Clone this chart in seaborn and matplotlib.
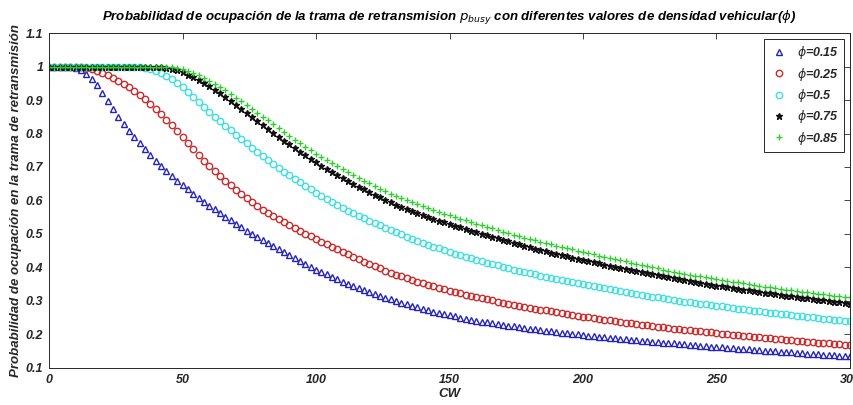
import matplotlib
matplotlib.use("Agg")
import matplotlib.pyplot as plt
from matplotlib.ticker import FuncFormatter
import numpy as np
import pandas as pd
import seaborn as sns

# ---------------- data ----------------
cw = list(range(0, 301, 2))

p_015 = [1.000, 1.000, 1.000, 1.000, 0.999, 0.996, 0.989, 0.978, 0.963, 0.945,
         0.922, 0.897, 0.872, 0.849, 0.828, 0.808, 0.789, 0.771, 0.753, 0.735,
         0.718, 0.702, 0.687, 0.673, 0.659, 0.646, 0.633, 0.620, 0.608, 0.596,
         0.585, 0.574, 0.563, 0.552, 0.541, 0.530, 0.520, 0.510, 0.500, 0.491,
         0.482, 0.473, 0.463, 0.454, 0.445, 0.436, 0.428, 0.419, 0.410, 0.402,
         0.394, 0.387, 0.380, 0.372, 0.365, 0.358, 0.352, 0.345, 0.339, 0.333,
         0.327, 0.321, 0.316, 0.310, 0.305, 0.299, 0.294, 0.290, 0.285, 0.281,
         0.276, 0.272, 0.268, 0.264, 0.261, 0.257, 0.254, 0.250, 0.247, 0.244,
         0.241, 0.238, 0.236, 0.233, 0.231, 0.228, 0.226, 0.224, 0.221, 0.219,
         0.217, 0.215, 0.213, 0.211, 0.209, 0.207, 0.205, 0.203, 0.202, 0.200,
         0.198, 0.196, 0.195, 0.193, 0.192, 0.190, 0.189, 0.187, 0.186, 0.184,
         0.183, 0.182, 0.180, 0.179, 0.177, 0.176, 0.175, 0.174, 0.172, 0.171,
         0.169, 0.168, 0.167, 0.166, 0.164, 0.163, 0.162, 0.161, 0.160, 0.158,
         0.157, 0.156, 0.155, 0.154, 0.152, 0.151, 0.150, 0.149, 0.148, 0.147,
         0.146, 0.145, 0.143, 0.142, 0.141, 0.140, 0.139, 0.138, 0.137, 0.136,
         0.135]

p_025 = [1.000, 1.000, 1.000, 1.000, 1.000, 1.000, 0.999, 0.997, 0.993, 0.988,
         0.982, 0.975, 0.966, 0.958, 0.948, 0.938, 0.927, 0.916, 0.903, 0.889,
         0.874, 0.858, 0.841, 0.824, 0.807, 0.790, 0.772, 0.754, 0.736, 0.719,
         0.703, 0.687, 0.672, 0.658, 0.645, 0.632, 0.619, 0.607, 0.595, 0.584,
         0.573, 0.563, 0.553, 0.544, 0.535, 0.526, 0.517, 0.509, 0.501, 0.493,
         0.485, 0.477, 0.469, 0.461, 0.454, 0.446, 0.439, 0.431, 0.424, 0.417,
         0.410, 0.404, 0.397, 0.391, 0.385, 0.379, 0.374, 0.368, 0.363, 0.358,
         0.353, 0.349, 0.344, 0.340, 0.335, 0.331, 0.327, 0.323, 0.319, 0.316,
         0.312, 0.309, 0.305, 0.302, 0.298, 0.295, 0.292, 0.289, 0.286, 0.283,
         0.280, 0.277, 0.274, 0.272, 0.269, 0.266, 0.263, 0.261, 0.258, 0.256,
         0.253, 0.251, 0.249, 0.246, 0.244, 0.242, 0.240, 0.237, 0.235, 0.233,
         0.231, 0.229, 0.227, 0.225, 0.223, 0.221, 0.219, 0.217, 0.216, 0.214,
         0.212, 0.210, 0.209, 0.207, 0.206, 0.204, 0.202, 0.201, 0.199, 0.198,
         0.196, 0.195, 0.193, 0.192, 0.190, 0.189, 0.188, 0.186, 0.185, 0.183,
         0.182, 0.181, 0.179, 0.178, 0.176, 0.175, 0.174, 0.172, 0.171, 0.170,
         0.169]

p_05 = [1.000, 1.000, 1.000, 1.000, 1.000, 1.000, 1.000, 1.000, 1.000, 1.000,
        1.000, 1.000, 1.000, 1.000, 1.000, 1.000, 1.000, 0.999, 0.997, 0.993,
        0.988, 0.981, 0.972, 0.962, 0.952, 0.940, 0.925, 0.910, 0.895, 0.879,
        0.864, 0.850, 0.837, 0.823, 0.810, 0.797, 0.784, 0.771, 0.758, 0.746,
        0.733, 0.721, 0.709, 0.698, 0.686, 0.675, 0.664, 0.654, 0.643, 0.633,
        0.623, 0.614, 0.605, 0.596, 0.587, 0.578, 0.570, 0.562, 0.555, 0.547,
        0.540, 0.533, 0.526, 0.519, 0.512, 0.505, 0.499, 0.492, 0.486, 0.479,
        0.473, 0.468, 0.462, 0.457, 0.451, 0.446, 0.441, 0.436, 0.432, 0.427,
        0.422, 0.418, 0.414, 0.410, 0.406, 0.402, 0.398, 0.394, 0.391, 0.387,
        0.383, 0.380, 0.376, 0.373, 0.369, 0.366, 0.363, 0.360, 0.356, 0.353,
        0.350, 0.347, 0.344, 0.341, 0.338, 0.335, 0.332, 0.329, 0.327, 0.324,
        0.321, 0.318, 0.316, 0.313, 0.311, 0.308, 0.306, 0.303, 0.301, 0.298,
        0.296, 0.294, 0.292, 0.290, 0.288, 0.286, 0.284, 0.281, 0.279, 0.277,
        0.275, 0.273, 0.271, 0.269, 0.267, 0.265, 0.263, 0.261, 0.260, 0.258,
        0.256, 0.254, 0.252, 0.251, 0.249, 0.247, 0.245, 0.244, 0.242, 0.241,
        0.239]

p_075 = [1.000, 1.000, 1.000, 1.000, 1.000, 1.000, 1.000, 1.000, 1.000, 1.000,
         1.000, 1.000, 1.000, 1.000, 1.000, 1.000, 1.000, 1.000, 1.000, 1.000,
         1.000, 0.999, 0.997, 0.993, 0.989, 0.983, 0.976, 0.969, 0.961, 0.952,
         0.942, 0.931, 0.920, 0.909, 0.898, 0.886, 0.874, 0.862, 0.850, 0.838,
         0.826, 0.814, 0.802, 0.791, 0.779, 0.768, 0.757, 0.746, 0.735, 0.725,
         0.714, 0.704, 0.695, 0.685, 0.676, 0.667, 0.658, 0.650, 0.641, 0.633,
         0.625, 0.617, 0.610, 0.602, 0.595, 0.587, 0.581, 0.574, 0.568, 0.562,
         0.556, 0.551, 0.545, 0.540, 0.535, 0.530, 0.525, 0.520, 0.515, 0.510,
         0.505, 0.500, 0.496, 0.491, 0.487, 0.482, 0.478, 0.473, 0.469, 0.464,
         0.460, 0.456, 0.452, 0.448, 0.444, 0.440, 0.436, 0.433, 0.429, 0.426,
         0.422, 0.419, 0.415, 0.412, 0.408, 0.405, 0.402, 0.399, 0.395, 0.392,
         0.389, 0.386, 0.383, 0.380, 0.377, 0.374, 0.371, 0.368, 0.366, 0.363,
         0.360, 0.357, 0.354, 0.352, 0.349, 0.346, 0.344, 0.341, 0.339, 0.336,
         0.334, 0.332, 0.330, 0.327, 0.325, 0.323, 0.321, 0.319, 0.316, 0.314,
         0.312, 0.310, 0.308, 0.306, 0.304, 0.302, 0.300, 0.298, 0.296, 0.294,
         0.292]

p_085 = [1.000, 1.000, 1.000, 1.000, 1.000, 1.000, 1.000, 1.000, 1.000, 1.000,
         1.000, 1.000, 1.000, 1.000, 1.000, 1.000, 1.000, 1.000, 1.000, 1.000,
         1.000, 1.000, 1.000, 1.000, 0.997, 0.992, 0.987, 0.981, 0.974, 0.967,
         0.958, 0.949, 0.939, 0.929, 0.918, 0.907, 0.896, 0.885, 0.873, 0.862,
         0.850, 0.839, 0.827, 0.816, 0.804, 0.793, 0.782, 0.772, 0.761, 0.751,
         0.740, 0.730, 0.721, 0.711, 0.702, 0.693, 0.684, 0.676, 0.667, 0.659,
         0.651, 0.643, 0.635, 0.628, 0.620, 0.613, 0.607, 0.601, 0.595, 0.589,
         0.583, 0.578, 0.572, 0.567, 0.561, 0.556, 0.551, 0.546, 0.541, 0.536,
         0.531, 0.526, 0.521, 0.517, 0.512, 0.507, 0.503, 0.498, 0.494, 0.489,
         0.485, 0.481, 0.477, 0.473, 0.469, 0.465, 0.461, 0.457, 0.454, 0.450,
         0.446, 0.442, 0.439, 0.435, 0.432, 0.428, 0.425, 0.421, 0.418, 0.414,
         0.411, 0.408, 0.404, 0.401, 0.397, 0.394, 0.391, 0.388, 0.385, 0.382,
         0.379, 0.376, 0.374, 0.371, 0.369, 0.366, 0.363, 0.361, 0.358, 0.356,
         0.353, 0.351, 0.348, 0.346, 0.343, 0.341, 0.339, 0.337, 0.334, 0.332,
         0.330, 0.328, 0.326, 0.324, 0.322, 0.320, 0.318, 0.316, 0.315, 0.313,
         0.311]

labels = [r"$\phi$=0.15", r"$\phi$=0.25", r"$\phi$=0.5", r"$\phi$=0.75", r"$\phi$=0.85"]
x_ticks = [0, 50, 100, 150, 200, 250, 300]
y_ticks = [0.1, 0.2, 0.3, 0.4, 0.5, 0.6, 0.7, 0.8, 0.9, 1.0, 1.1]

title = ("Probabilidad de ocupación de la trama de retransmision $p_{busy}$ "
         "con diferentes valores de densidad vehicular($\\phi$)")
x_label = "CW"
y_label = "Probabilidad de ocupación en la trama de retransmisión"

# ---------------- styling ----------------
sns.set_theme(style="white")
plt.rcParams["font.family"] = ["Liberation Sans", "DejaVu Sans"]
plt.rcParams["mathtext.fontset"] = "dejavusans"
axis_col = "#262626"

fig = plt.figure(figsize=(8.54, 4.05), dpi=100)
fig.patch.set_facecolor("white")
ax = fig.add_axes([0.0574, 0.0914, 0.9379, 0.8271])
ax.set_facecolor("white")

styles = [
    ("^", "#2424b8", True),
    ("o", "#cc2b2b", True),
    ("o", "#40e0e0", True),
    ("*", "#111111", False),
    ("+", "#33cc33", False),
]
series = [p_015, p_025, p_05, p_075, p_085]

for vals, lab, (mk, col, hollow) in zip(series, labels, styles):
    df = pd.DataFrame({"CW": cw, "p": vals})
    sns.lineplot(
        data=df, x="CW", y="p", ax=ax,
        marker=mk, linestyle="none", markersize=4.6,
        markerfacecolor="none" if hollow else col,
        markeredgecolor=col, markeredgewidth=1.0,
        color=col, label=lab,
    )

ax.set_xlim(0, 300)
ax.set_ylim(0.1, 1.1)
ax.set_xticks(x_ticks)
ax.set_yticks(y_ticks)
fmt = FuncFormatter(lambda v, p: f"{v:g}")
ax.xaxis.set_major_formatter(fmt)
ax.yaxis.set_major_formatter(fmt)
ax.tick_params(direction="in", top=True, right=True, length=4, width=0.6,
               colors=axis_col, labelsize=9, pad=4)
for lab in ax.get_xticklabels() + ax.get_yticklabels():
    lab.set_fontweight("bold")
    lab.set_fontstyle("italic")
for sp in ax.spines.values():
    sp.set_visible(True)
    sp.set_color(axis_col)
    sp.set_linewidth(0.7)

ax.set_xlabel(x_label, fontsize=9.5, fontweight="bold", style="italic",
              color=axis_col, labelpad=2)
ax.set_ylabel(y_label, fontsize=9.5, fontweight="bold", style="italic",
              color=axis_col, labelpad=3)
ax.set_title(title, fontsize=9.5, fontweight="bold", style="italic",
             color="black", pad=9,
             family=["Liberation Sans Narrow", "Liberation Sans", "DejaVu Sans"])

leg = ax.legend(loc="upper right", frameon=True, fancybox=False,
                edgecolor=axis_col, framealpha=1, borderaxespad=0.5,
                prop={"weight": "bold", "style": "italic", "size": 9},
                handletextpad=0.6, handlelength=1.6, labelspacing=0.35,
                borderpad=0.4, markerscale=1.0)
leg.get_frame().set_linewidth(0.7)

fig.savefig("out.png", dpi=100, facecolor="white")
